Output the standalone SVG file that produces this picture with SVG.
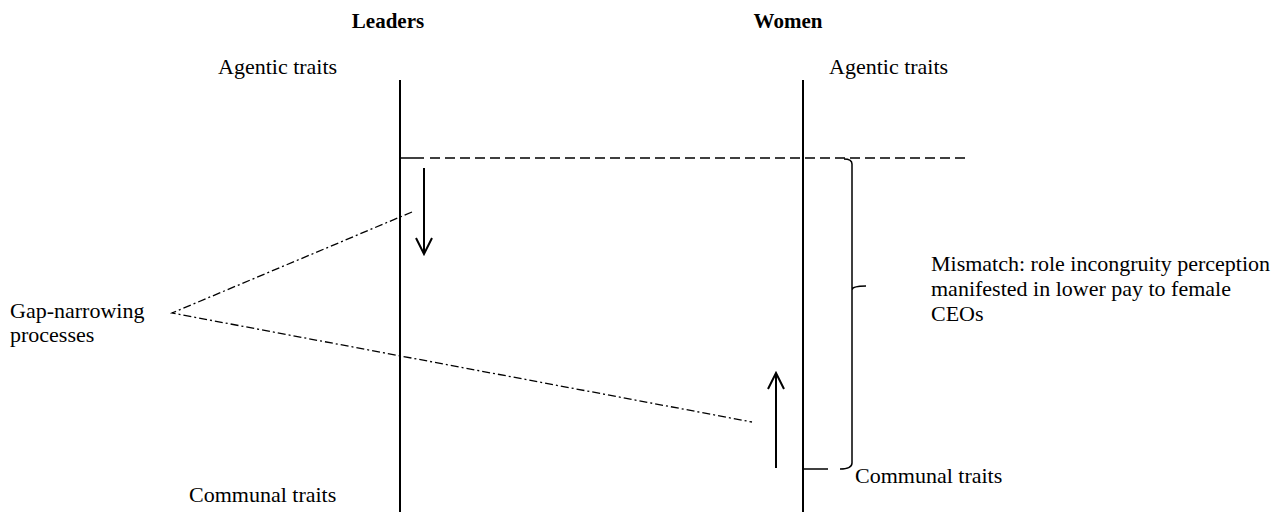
<svg xmlns="http://www.w3.org/2000/svg" width="1285" height="512" viewBox="0 0 1285 512">
<style>
text{font-family:"Liberation Serif","Times New Roman",serif;font-size:22px;fill:#000}
.b{font-weight:bold;font-size:21px}
.axis{stroke:#000;stroke-width:2;fill:none}
.arr{stroke:#000;stroke-width:2;fill:none}
.dash{stroke:#000;stroke-width:1.5;stroke-dasharray:10 5;fill:none}
.dd{stroke:#000;stroke-width:1.3;stroke-dasharray:8 3 2 3;fill:none}
.thin{stroke:#000;stroke-width:1.5;fill:none}
</style>
<rect width="1285" height="512" fill="#fff"/>
<g id="leaders">
<text class="b" x="388" y="28" text-anchor="middle">Leaders</text>
<line class="axis" x1="400" y1="80" x2="400" y2="512"/>
<text x="218" y="74">Agentic traits</text>
<text x="189" y="502">Communal traits</text>
</g>
<g id="women">
<text class="b" x="788" y="28" text-anchor="middle">Women</text>
<line class="axis" x1="803" y1="80" x2="803" y2="512"/>
<text x="829" y="74">Agentic traits</text>
<text x="855" y="483">Communal traits</text>
</g>
<g id="gap">
<text x="10" y="318">Gap-narrowing</text>
<text x="10" y="342">processes</text>
</g>
<g id="mismatch">
<text x="931" y="271">Mismatch: role incongruity perception</text>
<text x="931" y="296">manifested in lower pay to female</text>
<text x="931" y="321">CEOs</text>
</g>
<g id="connectors">
<line class="thin" x1="400" y1="158" x2="424" y2="158"/>
<line class="dash" x1="430" y1="158" x2="968" y2="158"/>
<path class="arr" d="M424 168 V254 M416 238 L424 254 L432 238"/>
<path class="arr" d="M776 468 V373 M768 389 L776 373 L784 389"/>
<path class="dd" d="M412 212 L172 313 L752 422"/>
<line class="thin" x1="803" y1="469" x2="828" y2="469"/>
<path class="thin" d="M840 469 Q852 469 852 463 V290 Q852 286 866 286 M852 290 V164 Q852 159 844 159"/>
</g>
</svg>
